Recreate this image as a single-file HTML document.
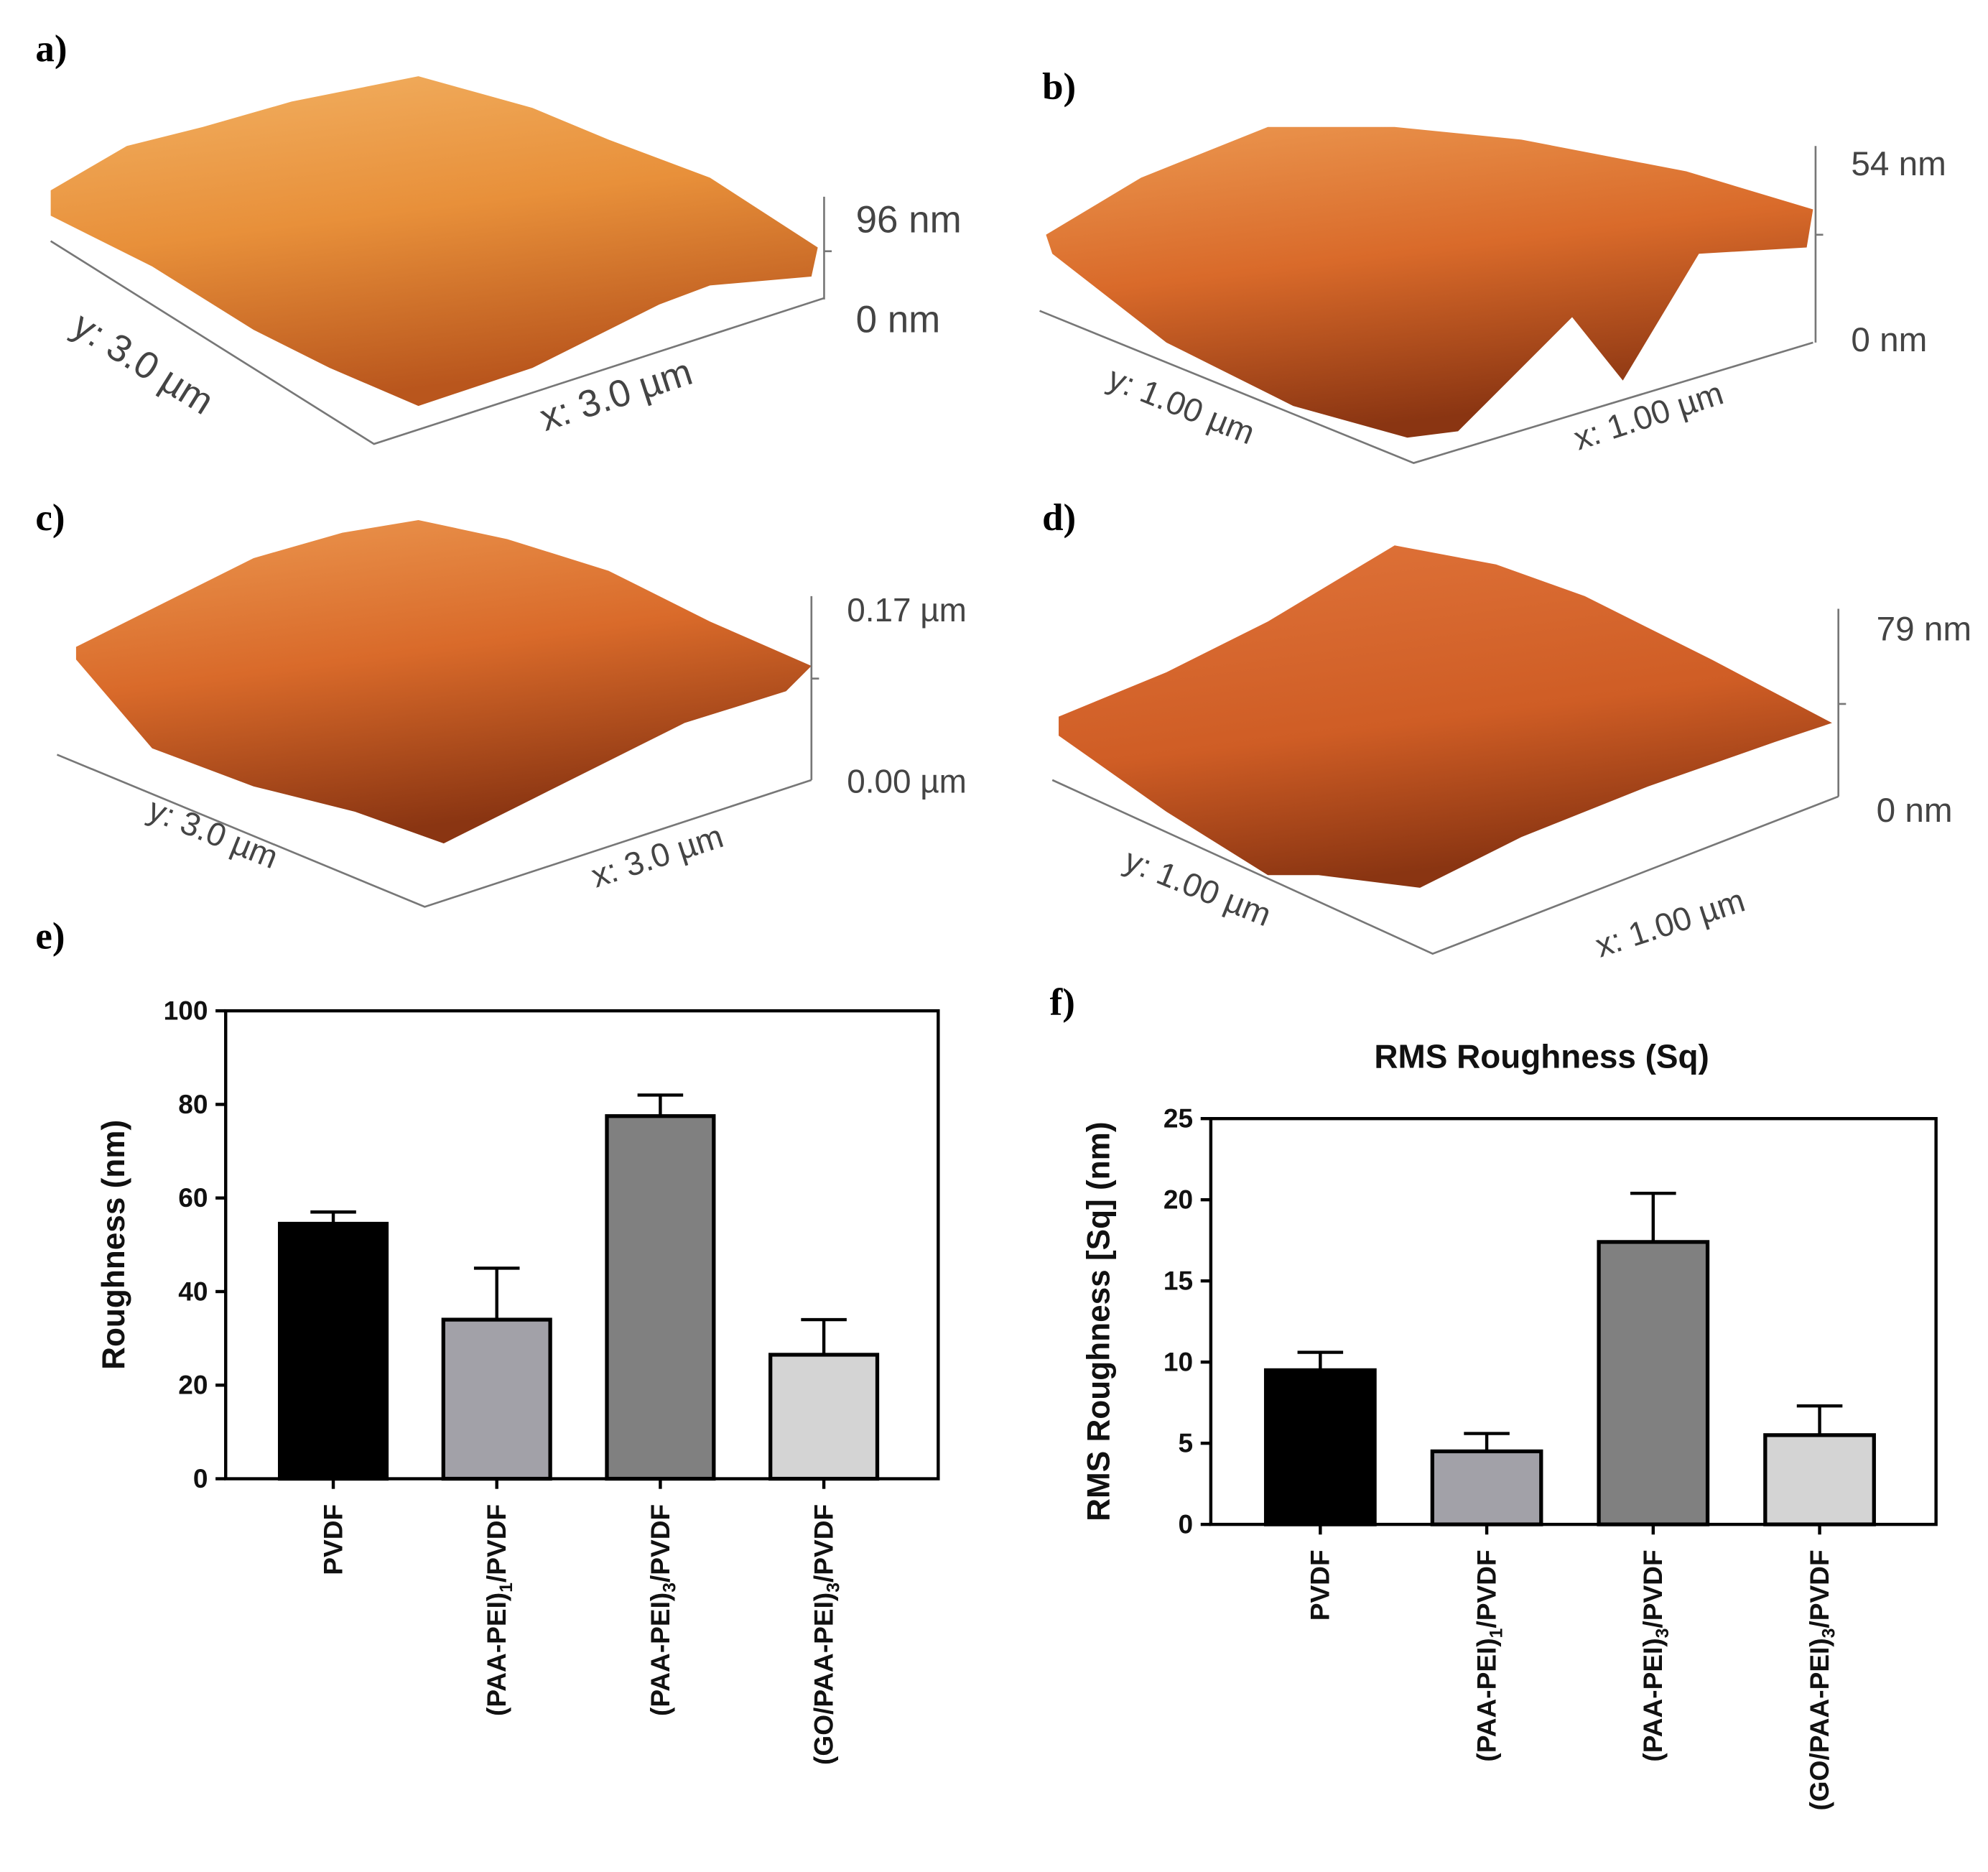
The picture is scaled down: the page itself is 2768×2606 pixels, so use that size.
<!DOCTYPE html>
<html><head><meta charset="utf-8"><style>
html,body{margin:0;padding:0;background:#fff}
svg{display:block}
text{font-family:"Liberation Sans",sans-serif}
.lab{font-family:"Liberation Serif",serif;font-weight:bold;font-size:30px}
.ax{font-size:30px;fill:#444}
.tk{font-size:21px;font-weight:bold;fill:#111}
</style></head><body>
<svg id="fig" width="2768" height="2606" viewBox="0 0 1568 1476" xmlns="http://www.w3.org/2000/svg">
<defs>
<linearGradient id="ga" x1="0" y1="0" x2="0.3" y2="1"><stop offset="0" stop-color="#f2b163"/><stop offset="0.5" stop-color="#e8903a"/><stop offset="1" stop-color="#b9561d"/></linearGradient>
<linearGradient id="gb" x1="0" y1="0" x2="0.3" y2="1"><stop offset="0" stop-color="#ec9850"/><stop offset="0.5" stop-color="#d96a2a"/><stop offset="1" stop-color="#8a3512"/></linearGradient>
<linearGradient id="gd" x1="0" y1="0" x2="0.3" y2="1"><stop offset="0" stop-color="#e0743a"/><stop offset="0.6" stop-color="#cf5d25"/><stop offset="1" stop-color="#8a3512"/></linearGradient>
</defs>

<g>
<text class="lab" x="28" y="48">a)</text>
<polygon fill="url(#ga)" points="40,150 100,115 160,100 230,80 330,60 420,85 480,110 560,140 645,195 640,218 560,225 520,240 420,290 330,320 260,290 200,260 120,210 40,170"/>
<polyline points="40,190 295,350 650,235" fill="none" stroke="#777" stroke-width="1.5"/>
<line x1="650" y1="155" x2="650" y2="236" stroke="#777" stroke-width="1.5"/>
<line x1="650" y1="198" x2="656" y2="198" stroke="#777" stroke-width="1.5"/>
<text class="ax" x="675" y="183">96 nm</text><text class="ax" x="675" y="262">0 nm</text>
<text class="ax" transform="translate(55,262) rotate(32)">y: 3.0 µm</text>
<text class="ax" transform="translate(430,340) rotate(-18)">x: 3.0 µm</text>
</g>

<g>
<text class="lab" x="822" y="78">b)</text>
<polygon fill="url(#gb)" points="825,185 900,140 1000,100 1100,100 1200,110 1330,135 1430,165 1425,195 1340,200 1280,300 1240,250 1150,340 1110,345 1020,320 920,270 830,200"/>
<polyline points="820,245 1115,365 1430,270" fill="none" stroke="#777" stroke-width="1.5"/>
<line x1="1432" y1="115" x2="1432" y2="270" stroke="#777" stroke-width="1.5"/>
<line x1="1432" y1="185" x2="1438" y2="185" stroke="#777" stroke-width="1.5"/>
<text class="ax" x="1460" y="138" style="font-size:27px">54 nm</text><text class="ax" x="1460" y="277" style="font-size:27px">0 nm</text>
<text class="ax" style="font-size:26px" transform="translate(872,305) rotate(22)">y: 1.00 µm</text>
<text class="ax" style="font-size:26px" transform="translate(1245,355) rotate(-18)">x: 1.00 µm</text>
</g>

<g>
<text class="lab" x="28" y="418">c)</text>
<polygon fill="url(#gb)" points="60,510 140,470 200,440 270,420 330,410 400,425 480,450 560,490 640,525 620,545 540,570 480,600 420,630 350,665 280,640 200,620 120,590 60,520"/>
<polyline points="45,595 335,715 640,615" fill="none" stroke="#777" stroke-width="1.5"/>
<line x1="640" y1="470" x2="640" y2="615" stroke="#777" stroke-width="1.5"/>
<line x1="640" y1="535" x2="646" y2="535" stroke="#777" stroke-width="1.5"/>
<text class="ax" style="font-size:26px" x="668" y="490">0.17 µm</text><text class="ax" style="font-size:26px" x="668" y="625">0.00 µm</text>
<text class="ax" style="font-size:26px" transform="translate(115,645) rotate(22)">y: 3.0 µm</text>
<text class="ax" style="font-size:26px" transform="translate(470,700) rotate(-18)">x: 3.0 µm</text>
</g>

<g>
<text class="lab" x="822" y="418">d)</text>
<polygon fill="url(#gd)" points="835,565 920,530 1000,490 1100,430 1180,445 1250,470 1350,520 1445,570 1400,585 1300,620 1200,660 1120,700 1040,690 1000,690 920,640 835,580"/>
<polyline points="830,615 1130,752 1450,628" fill="none" stroke="#777" stroke-width="1.5"/>
<line x1="1450" y1="480" x2="1450" y2="628" stroke="#777" stroke-width="1.5"/>
<line x1="1450" y1="555" x2="1456" y2="555" stroke="#777" stroke-width="1.5"/>
<text class="ax" style="font-size:27px" x="1480" y="505">79 nm</text><text class="ax" style="font-size:27px" x="1480" y="648">0 nm</text>
<text class="ax" style="font-size:26px" transform="translate(885,685) rotate(22)">y: 1.00 µm</text>
<text class="ax" style="font-size:26px" transform="translate(1262,755) rotate(-18)">x: 1.00 µm</text>
</g>

<text class="lab" x="28" y="748">e)</text>
<text class="lab" x="828" y="800">f)</text>
<g id="chartE"></g>
<g id="chartF"></g>
</svg>
<script>
const categories = ["PVDF", "(PAA-PEI)1/PVDF", "(PAA-PEI)3/PVDF", "(GO/PAA-PEI)3/PVDF"];
const roughnessValues = [54.5, 34, 77.5, 26.5];
const roughnessErrors = [2.5, 11, 4.5, 7.5];
const roughnessTicks = [0, 20, 40, 60, 80, 100];
const rmsValues = [9.5, 4.5, 17.4, 5.5];
const rmsErrors = [1.1, 1.1, 3.0, 1.8];
const rmsTicks = [0, 5, 10, 15, 20, 25];
const barColors = ["#000000", "#a2a1a8", "#808080", "#d4d4d4"];
const NS = "http://www.w3.org/2000/svg";
function mk(parent, tag, attrs, txt) {
  const e = document.createElementNS(NS, tag);
  for (const k in attrs) e.setAttribute(k, attrs[k]);
  if (txt !== undefined) e.textContent = txt;
  parent.appendChild(e); return e;
}
function drawChart(g, box, vals, errs, ticks, ytitle, title, prefix) {
  const yMax = ticks[ticks.length - 1];
  const y = v => box.y1 - (v / yMax) * (box.y1 - box.y0);
  const w = box.x1 - box.x0;
  const x = i => box.x0 + w * (0.151 + 0.2295 * i);
  const bw = w * 0.15;
  const frame = mk(g, "rect", {x: box.x0, y: box.y0, width: w, height: box.y1 - box.y0, fill: "none", stroke: "#000", "stroke-width": 2.5});
  
  
  ticks.forEach(t => {
    mk(g, "line", {x1: box.x0 - 8, x2: box.x0, y1: y(t), y2: y(t), stroke: "#000", "stroke-width": 2.5});
    const tl = mk(g, "text", {x: box.x0 - 14, y: y(t) + 7, "text-anchor": "end", class: "tk"}, String(t));
    
    
  });
  vals.forEach((v, i) => {
    const top = y(v + errs[i]);
    mk(g, "line", {x1: x(i), x2: x(i), y1: y(v), y2: top, stroke: "#000", "stroke-width": 2.5});
    mk(g, "line", {x1: x(i) - 18, x2: x(i) + 18, y1: top, y2: top, stroke: "#000", "stroke-width": 2.5});
    const b = mk(g, "rect", {x: x(i) - bw / 2, y: y(v), width: bw, height: y(0) - y(v), fill: barColors[i], stroke: "#000", "stroke-width": 3});
    
    
    mk(g, "line", {x1: x(i), x2: x(i), y1: box.y1, y2: box.y1 + 8, stroke: "#000", "stroke-width": 2.5});
    const c = categories[i];
    const m = c.match(/^(.*\))(\d)(\/PVDF)$/);
    const t = mk(g, "text", {transform: "translate(" + (x(i) + 7) + "," + (box.y1 + 20) + ") rotate(-90)", "text-anchor": "end", class: "tk"});
    
    
    if (m) {
      mk(t, "tspan", {}, m[1]);
      mk(t, "tspan", {"font-size": "14", dy: "5"}, m[2]);
      mk(t, "tspan", {dy: "-5"}, m[3]);
    } else t.textContent = c;
  });
  const yt = mk(g, "text", {transform: "translate(" + (box.x0 - 80) + "," + ((box.y0 + box.y1) / 2) + ") rotate(-90)", "text-anchor": "middle", class: "tk", style: "font-size:25px"}, ytitle);
  
  
  if (title) {
    const tt = mk(g, "text", {x: (box.x0 + box.x1) / 2 - 25, y: box.y0 - 40, "text-anchor": "middle", class: "tk", style: "font-size:26px"}, title);
    
    
  }
}
drawChart(document.getElementById("chartE"), {x0: 178, x1: 740, y0: 797, y1: 1166}, roughnessValues, roughnessErrors, roughnessTicks, "Roughness (nm)", null, "roughness");
drawChart(document.getElementById("chartF"), {x0: 955, x1: 1527, y0: 882, y1: 1202}, rmsValues, rmsErrors, rmsTicks, "RMS Roughness [Sq] (nm)", "RMS Roughness (Sq)", "rms");
</script>
</body></html>
